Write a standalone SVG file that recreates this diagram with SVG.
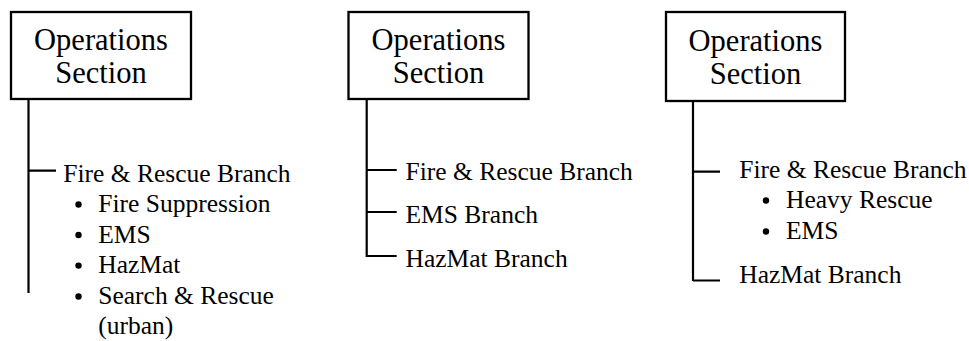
<svg xmlns="http://www.w3.org/2000/svg" width="969" height="341" viewBox="0 0 969 341">
<style>
.box{fill:#fff;stroke:#000;stroke-width:2.3}
.ln{stroke:#000;stroke-width:2.2;fill:none}
text{font-family:'Liberation Serif','Times New Roman',serif;fill:#000}
.h{font-size:30.5px;text-anchor:middle}
.b{font-size:25.5px}
.dot{fill:#000}
</style>
<rect width="969" height="341" fill="#fff"/>
<g id="connectors">
<path class="ln" d="M28.5 99V293M28.5 170.7H56"/>
<path class="ln" d="M366.7 99V257M366.7 170H396.7M366.7 212H396.7M366.7 256H396.7"/>
<path class="ln" d="M693 101V281M693 171.7H720M693 280.5H720"/>
</g>
<g id="ops1">
<rect class="box" x="11" y="12" width="180" height="87"/>
<text class="h" x="101" y="50">Operations</text>
<text class="h" x="101" y="83">Section</text>
</g>
<g id="fire1">
<text class="b" x="63.3" y="181.5">Fire &amp; Rescue Branch</text>
<circle class="dot" cx="78.5" cy="204.5" r="3.2"/>
<text class="b" x="98.3" y="212.3">Fire Suppression</text>
<circle class="dot" cx="78.5" cy="235" r="3.2"/>
<text class="b" x="98.3" y="242.8">EMS</text>
<circle class="dot" cx="78.5" cy="265.6" r="3.2"/>
<text class="b" x="98.3" y="273.4">HazMat</text>
<circle class="dot" cx="78.5" cy="296.5" r="3.2"/>
<text class="b" x="98.3" y="304.3">Search &amp; Rescue</text>
<text class="b" x="98.3" y="334">(urban)</text>
</g>
<g id="ops2">
<rect class="box" x="348.5" y="12" width="180" height="87"/>
<text class="h" x="438.5" y="50">Operations</text>
<text class="h" x="438.5" y="83">Section</text>
</g>
<g id="fire2"><text class="b" x="405.5" y="179.5">Fire &amp; Rescue Branch</text></g>
<g id="ems2"><text class="b" x="405.5" y="222.8">EMS Branch</text></g>
<g id="haz2"><text class="b" x="405.5" y="266.7">HazMat Branch</text></g>
<g id="ops3">
<rect class="box" x="666" y="12" width="179" height="89"/>
<text class="h" x="755.5" y="50.5">Operations</text>
<text class="h" x="755.5" y="84">Section</text>
</g>
<g id="fire3">
<text class="b" x="739.3" y="177.5">Fire &amp; Rescue Branch</text>
<circle class="dot" cx="766" cy="200.5" r="3.2"/>
<text class="b" x="786" y="208.3">Heavy Rescue</text>
<circle class="dot" cx="766" cy="231.5" r="3.2"/>
<text class="b" x="786" y="239.3">EMS</text>
</g>
<g id="haz3"><text class="b" x="739.3" y="283.3">HazMat Branch</text></g>
</svg>
